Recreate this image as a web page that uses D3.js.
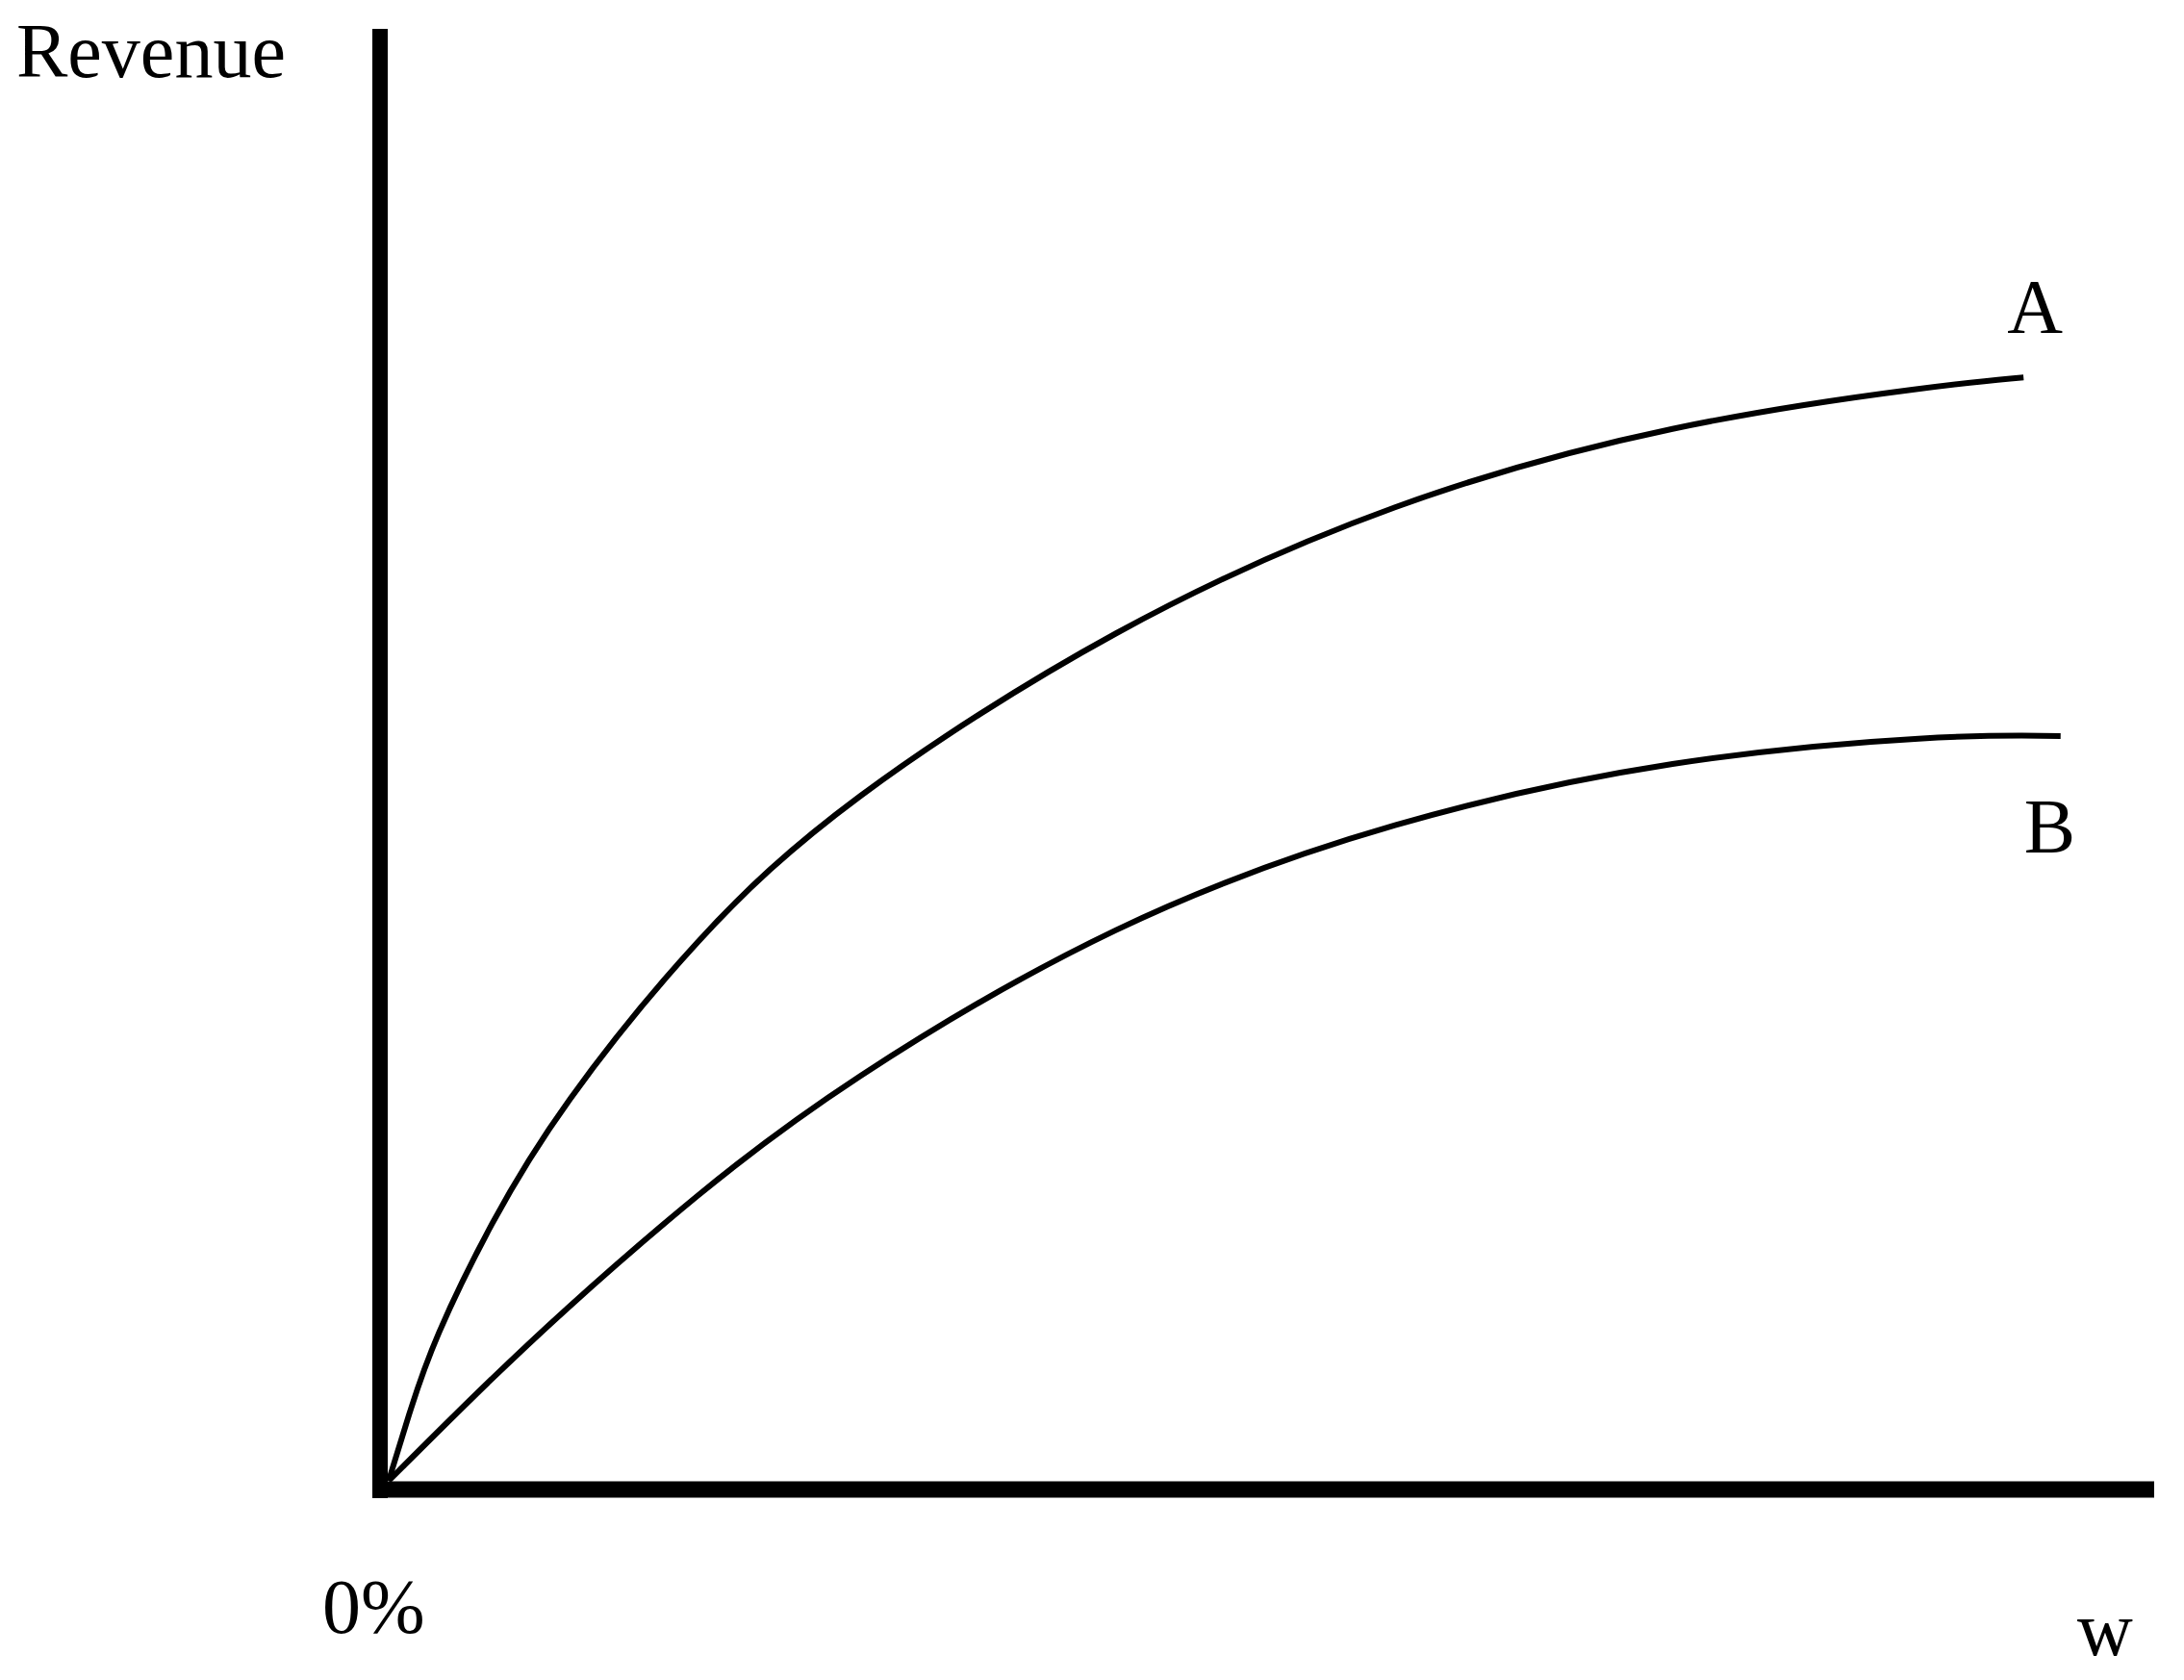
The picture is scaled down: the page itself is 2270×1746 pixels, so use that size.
<!DOCTYPE html>
<html>
<head>
<meta charset="utf-8">
<script src="https://cdn.jsdelivr.net/npm/d3@7"></script>
<style>
  body { margin: 0; background: white; }
  text { font-family: "Liberation Serif", "Times New Roman", serif; fill: #000; }
</style>
</head>
<body>
<svg id="chart" width="2270" height="1746"></svg>
<script>
// share of w (0..100) and revenue (0..100)
var wA = [0, 1.25, 2.51, 5.78, 9.59, 17.5, 25.4, 41.2, 57.0, 72.8, 88.1, 92.6];
var revenueA = [0, 5.0, 9.6, 17.8, 25.6, 37.6, 46.6, 59.0, 67.6, 72.9, 75.5, 76.0];
var wB = [0, 4.69, 9.59, 17.5, 25.4, 41.2, 57.0, 72.8, 88.1, 94.7];
var revenueB = [0, 5.7, 11.4, 19.8, 27.2, 38.7, 45.6, 49.8, 51.4, 51.3];
var seriesNames = ["A", "B"];
var yLabel = "Revenue";
var xTickLabels = ["0%", "w"];

var props = {
    left: 404,
    right: 2239,
    top: 30,
    bottom: 1539,
    axisWidth: 16,
    curveWidth: 6,
    fontSize: 80
};

var svg = d3.select("#chart");

var x = d3.scaleLinear().domain([0, 100]).range([props.left, props.right]);
var y = d3.scaleLinear().domain([0, 100]).range([props.bottom, props.top]);

var line = d3.line()
    .x(d => x(d.w))
    .y(d => y(d.r))
    .curve(d3.curveBasis);

var series = [
    { name: seriesNames[0], values: wA.map((w, i) => ({ w: w, r: revenueA[i] })) },
    { name: seriesNames[1], values: wB.map((w, i) => ({ w: w, r: revenueB[i] })) }
];

svg.selectAll(".curve")
    .data(series)
    .enter()
    .append("path")
    .attr("class", "curve")
    .attr("d", d => line(d.values))
    .attr("fill", "none")
    .attr("stroke", "#000")
    .attr("stroke-width", props.curveWidth);

// thick axes
var half = props.axisWidth / 2;
svg.append("line")
    .attr("x1", x(0) - half - 1).attr("x2", x(0) - half - 1)
    .attr("y1", y(100)).attr("y2", y(0) + props.axisWidth + 2)
    .attr("stroke", "#000").attr("stroke-width", props.axisWidth);
svg.append("line")
    .attr("x1", x(0) - props.axisWidth - 1).attr("x2", x(100))
    .attr("y1", y(0) + half + 1).attr("y2", y(0) + half + 1)
    .attr("stroke", "#000").attr("stroke-width", props.axisWidth + 1);

var fs = props.fontSize;
svg.append("text").attr("x", 17).attr("y", 80).attr("font-size", fs).text(yLabel);
svg.append("text").attr("x", 335).attr("y", 1697).attr("font-size", fs).text(xTickLabels[0]);
svg.append("text").attr("x", 2159).attr("y", 1720).attr("font-size", fs).text(xTickLabels[1]);

// series labels beside the line ends
var lastA = series[0].values[series[0].values.length - 1];
var lastB = series[1].values[series[1].values.length - 1];
svg.append("text").attr("x", x(lastA.w) - 17).attr("y", y(lastA.r) - 46)
    .attr("font-size", fs).text(series[0].name);
svg.append("text").attr("x", x(lastB.w) - 38).attr("y", y(lastB.r) + 121)
    .attr("font-size", fs).text(series[1].name);
</script>
</body>
</html>
